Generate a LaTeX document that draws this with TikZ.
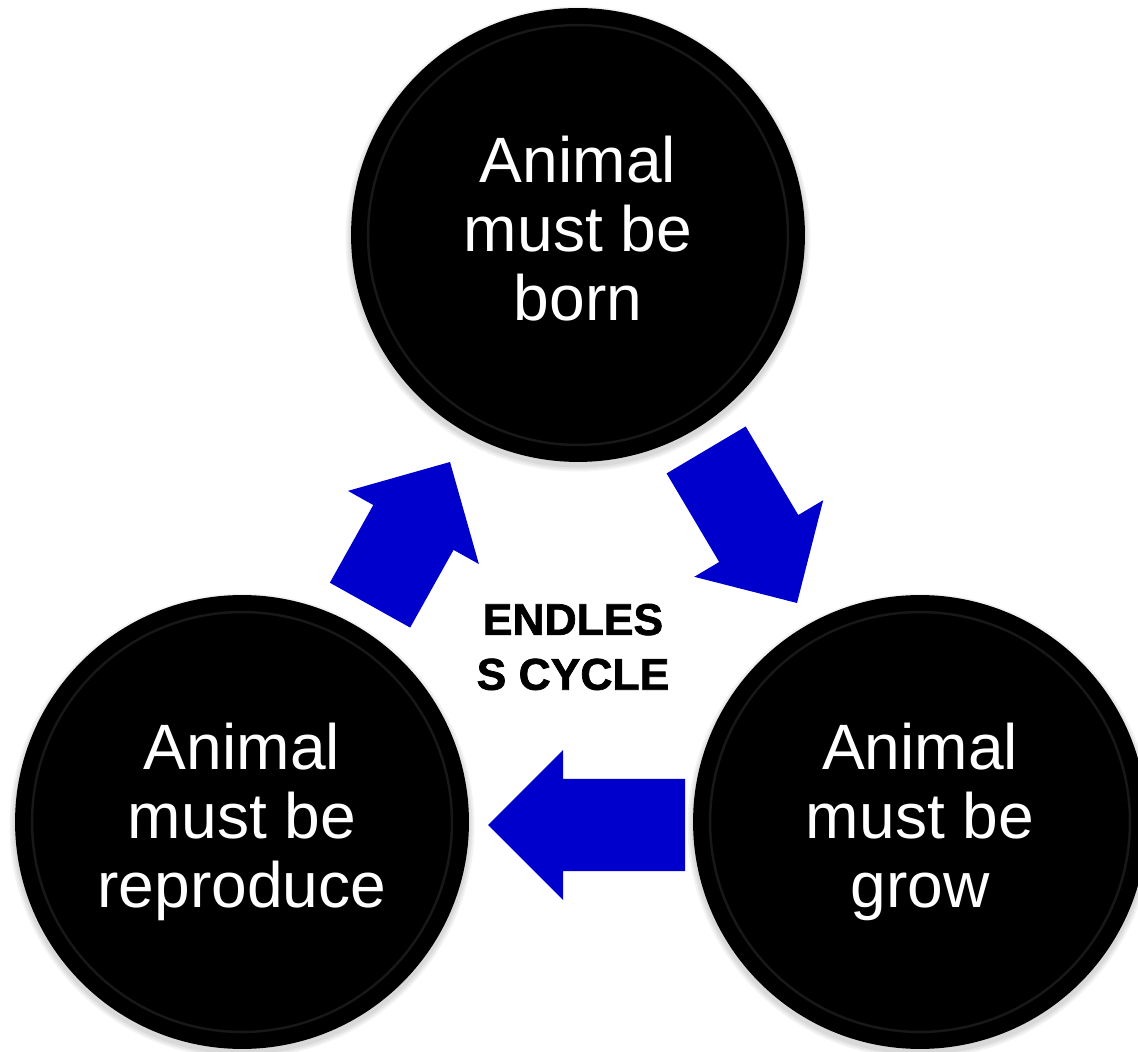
\documentclass[tikz,border=0pt]{standalone}
\usepackage{fontspec}
\setmainfont{Liberation Sans}
\newfontfamily\heavyfont[FakeBold=1.6]{Liberation Sans Bold}
\begin{document}
\begin{tikzpicture}[x=0.02cm,y=0.02cm]
\definecolor{arrowblue}{RGB}{0,0,204}
\definecolor{rimgray}{RGB}{60,60,60}
\tikzset{
  disc/.style={circle, fill=black, minimum size=9.08cm, inner sep=0pt, outer sep=0pt,
    text=white, align=center, font=\fontsize{36.5}{39.1}\selectfont},
  centertext/.style={align=center, text=black, font=\heavyfont\fontsize{25.3}{31.2}\selectfont},
  rim/.style={draw=rimgray, line width=1.4pt, opacity=0.4},
  softshadow/.style={fill=black, opacity=0.05},
  pics/blockarrow/.style={code={
    \fill[arrowblue] (0,0) -- (-75,75) -- (-75,46) -- (-#1,46) -- (-#1,-46)
      -- (-75,-46) -- (-75,-75) -- cycle;}}
}
\useasboundingbox (0,0) rectangle (1138,1051);
\clip (0,0) rectangle (1138,1051);
\fill[white] (0,0) rectangle (1138,1051);

\coordinate (cTop) at (578,816);
\coordinate (cLeft) at (242,229);
\coordinate (cRight) at (920,229);

% soft shadows
\foreach \c in {cTop,cLeft,cRight}{
  \foreach \r in {4.57,4.61,4.65}{
    \fill[softshadow] ([yshift=-0.08cm]\c) circle[radius=\r cm];
  }
}

% discs
\node[disc] (born) at (cTop) {\vphantom{Ag}Animal\\must be\\born\vphantom{g}};
\node[disc] (repro) at (cLeft) {\vphantom{Ag}Animal\\must be\\reproduce\vphantom{g}};
\node[disc] (grow) at (cRight) {\vphantom{Ag}Animal\\must be\\grow\vphantom{g}};

% rims
\draw[rim] (born.center) circle[radius=4.2cm];
\draw[rim] (repro.center) circle[radius=4.2cm];
\draw[rim] (grow.center) circle[radius=4.2cm];

% block arrows
\pic[rotate=60.8] at (450,589) {blockarrow=164};
\pic[rotate=-59.3] at (797,448) {blockarrow=178};
\pic[rotate=180] at (488,226) {blockarrow=197};

% centre label
\node[centertext] (cycle) at (573,404) {ENDLES\\S CYCLE};
\end{tikzpicture}
\end{document}
